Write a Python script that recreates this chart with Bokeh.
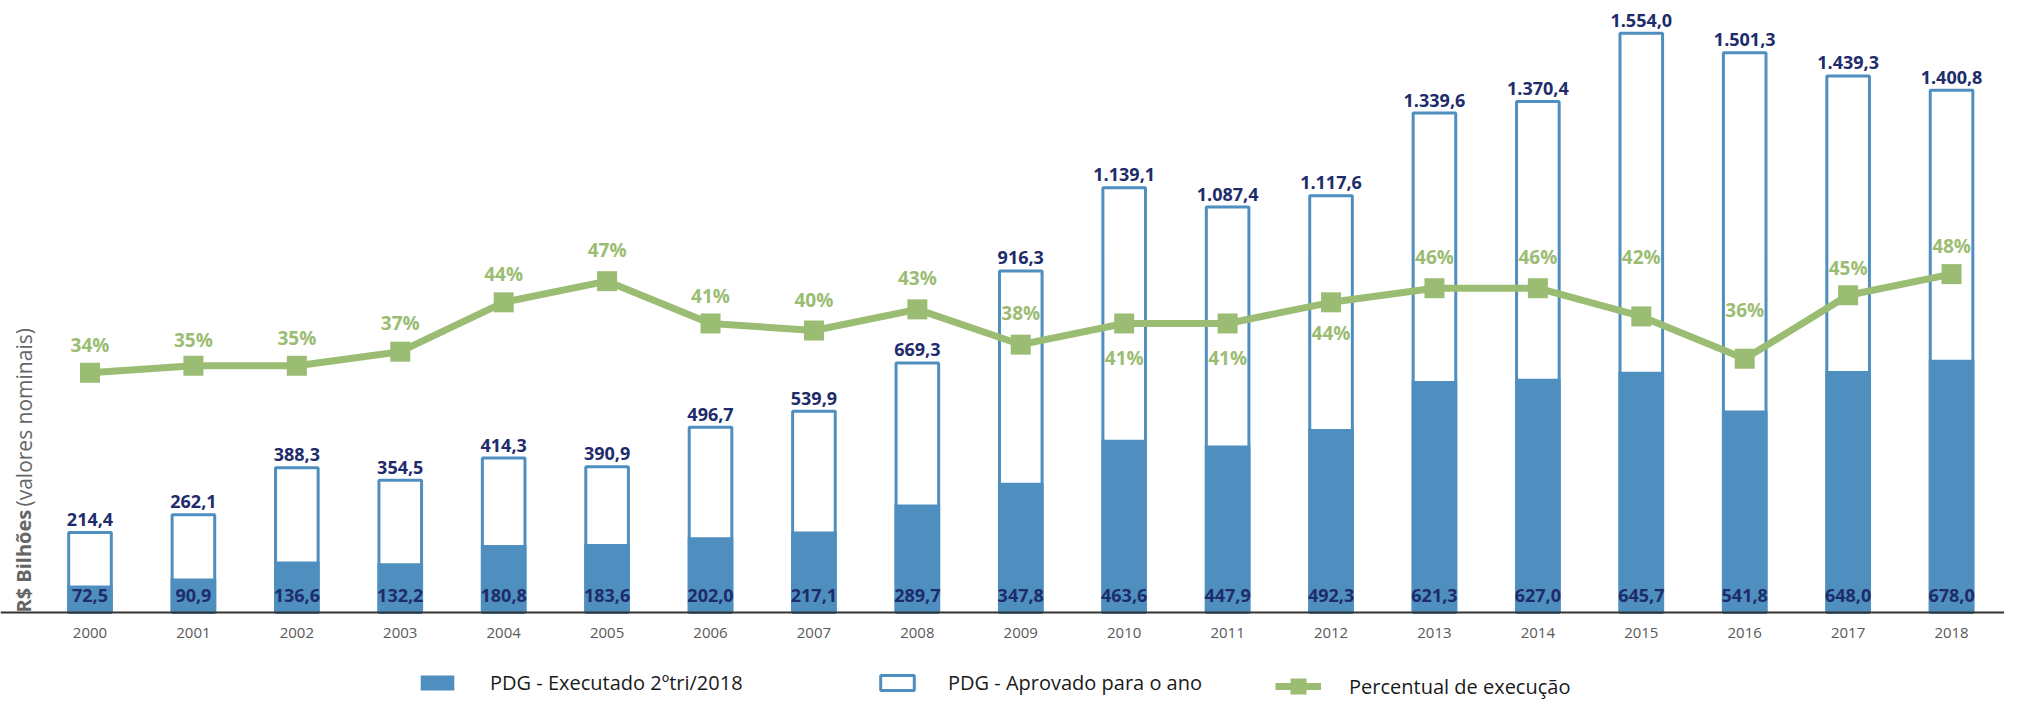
import math
from bokeh.plotting import figure
from bokeh.models import (Range1d, ColumnDataSource, LabelSet, Span, Legend, LegendItem)
from bokeh.core.properties import value
from bokeh.embed import file_html
from bokeh.resources import INLINE

# ---------------- data ----------------
years = ["2000", "2001", "2002", "2003", "2004", "2005", "2006", "2007", "2008", "2009",
         "2010", "2011", "2012", "2013", "2014", "2015", "2016", "2017", "2018"]
executado = [72.5, 90.9, 136.6, 132.2, 180.8, 183.6, 202.0, 217.1, 289.7, 347.8,
             463.6, 447.9, 492.3, 621.3, 627.0, 645.7, 541.8, 648.0, 678.0]
aprovado = [214.4, 262.1, 388.3, 354.5, 414.3, 390.9, 496.7, 539.9, 669.3, 916.3,
            1139.1, 1087.4, 1117.6, 1339.6, 1370.4, 1554.0, 1501.3, 1439.3, 1400.8]
percentual = [34, 35, 35, 37, 44, 47, 41, 40, 43, 38, 41, 41, 44, 46, 46, 42, 36, 45, 48]

# label placement for the percentage labels (screen px, + = above marker)
pct_label_dy = [28, 26, 28, 29, 28, 31, 27, 31, 31, 32, -35, -35, -31, 31, 31, 59, 49, 27, 28]

series_names = ["PDG - Executado 2ºtri/2018", "PDG - Aprovado para o ano", "Percentual de execução"]
y_title_parts = ["R$ Bilhões", "(valores nominais)"]

# ---------------- style ----------------
BLUE = "#4f8fbf"
NAVY = "#1e2c6b"
GREEN = "#9bbd73"
GRAY = "#595959"
FONT = "Open Sans"


def br(v):
    s = f"{v:,.1f}"
    return s.replace(",", "X").replace(".", ",").replace("X", ".")


year_num = [int(y) for y in years]

src = ColumnDataSource(dict(
    x=year_num,
    year=years,
    executado=executado,
    aprovado=aprovado,
    pct=percentual,
    ex_lbl=[br(v) for v in executado],
    ap_lbl=[br(v) for v in aprovado],
    pct_lbl=[f"{v}%" for v in percentual],
    pct_dy=pct_label_dy,
))

p = figure(width=2004, height=701,
           x_range=Range1d(1999.1346, 2018.512),
           y_range=Range1d(-238.7, 1641.6),
           output_backend="svg", toolbar_location=None,
           x_axis_location=None, y_axis_location=None,
           min_border_left=0, min_border_right=0, min_border_top=0, min_border_bottom=0)
p.extra_y_ranges = {"pct": Range1d(-12.62, 86.81)}
p.outline_line_color = None
p.grid.grid_line_color = None
p.background_fill_color = "white"
p.border_fill_color = "white"

r_ap = p.vbar(x="x", top="aprovado", bottom=0, width=0.412, fill_color="white",
              line_color=BLUE, line_width=3, source=src)
r_ex = p.vbar(x="x", top="executado", bottom=0, width=0.441, fill_color=BLUE,
              line_color=None, source=src)

# category axis line (baseline)
p.add_layout(Span(location=0, dimension="width", line_color="#333333", line_width=2))

r_line = p.line(x="x", y="pct", y_range_name="pct", line_color=GREEN, line_width=7,
                line_join="round", source=src)
r_sq = p.scatter(x="x", y="pct", y_range_name="pct", marker="square", size=20,
                 fill_color=GREEN, line_color=None, source=src)

# category (year) labels under the baseline
p.add_layout(LabelSet(x="x", y=0, text="year", y_offset=-20,
                      text_align="center", text_baseline="middle",
                      text_font=value(FONT), text_font_size="15px",
                      text_color=GRAY, source=src))

# value labels
p.add_layout(LabelSet(x="x", y="aprovado", text="ap_lbl", y_offset=13,
                      text_align="center", text_baseline="middle",
                      text_font=value(FONT), text_font_style="bold", text_font_size="18px",
                      text_color=NAVY, source=src))
p.add_layout(LabelSet(x="x", y=0, text="ex_lbl", y_offset=17,
                      text_align="center", text_baseline="middle",
                      text_font=value(FONT), text_font_style="bold", text_font_size="18px",
                      text_color=NAVY, source=src))
p.add_layout(LabelSet(x="x", y="pct", y_range_name="pct", text="pct_lbl", y_offset="pct_dy",
                      text_align="center", text_baseline="middle",
                      text_font=value(FONT), text_font_style="bold", text_font_size="19px",
                      text_color=GREEN, source=src))

# y-axis title (two weights), anchored left of the first category
title_src = ColumnDataSource(dict(
    x=[year_num[0], year_num[0]], y=[0, 0], text=y_title_parts,
    dy=[0, 106], style=["bold", "normal"], size=["20px", "21px"],
))
p.add_layout(LabelSet(x="x", y="y", text="text", y_offset="dy", x_offset=-66,
                      angle=math.pi / 2, text_align="left", text_baseline="middle",
                      text_font=value(FONT), text_font_style="style", text_font_size="size",
                      text_color="#666666", source=title_src))

# legends
common = dict(orientation="horizontal", padding=0, margin=0, spacing=0,
              border_line_color=None, background_fill_alpha=0,
              label_text_font=FONT, label_text_font_size="20px", label_text_color="#1a1a1a")
p.add_layout(Legend(items=[LegendItem(label=series_names[0], renderers=[r_ex])],
                    location=(416, 5), glyph_width=42, glyph_height=19, label_height=19,
                    label_standoff=32, **common))
p.add_layout(Legend(items=[LegendItem(label=series_names[1], renderers=[r_ap])],
                    location=(876, 5), glyph_width=42, glyph_height=19, label_height=19,
                    label_standoff=30, **common))
p.add_layout(Legend(items=[LegendItem(label=series_names[2], renderers=[r_line, r_sq])],
                    location=(1275, -5), glyph_width=46, glyph_height=40, label_height=19,
                    label_standoff=28, **common))

open("out.html", "w").write(file_html(p, INLINE))
